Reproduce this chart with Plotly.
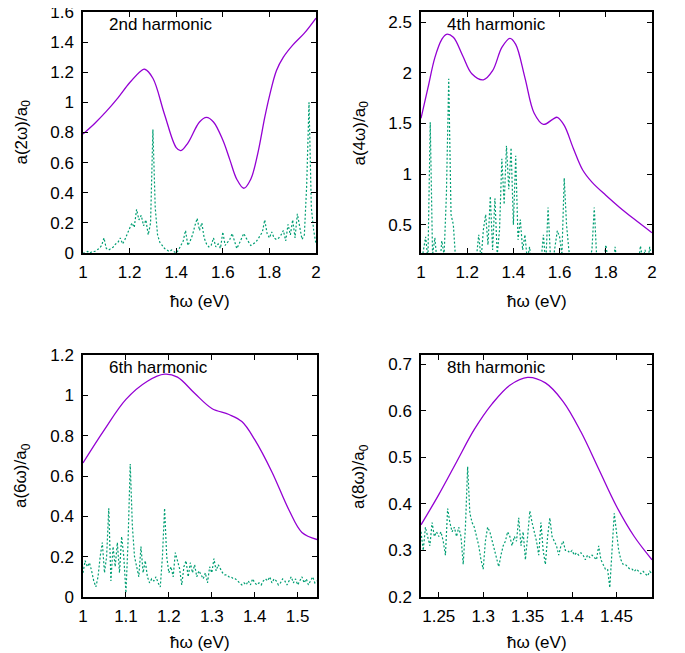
import numpy as np
import plotly.graph_objects as go

PURPLE = "#9400D3"
GREEN = "#009E73"
FONT = "Liberation Sans, Arial, sans-serif"

# ---- 2nd harmonic ----
x2_smooth = [1.00, 1.05, 1.10, 1.15, 1.20, 1.25, 1.265, 1.30, 1.35, 1.40, 1.42, 1.45,
             1.50, 1.53, 1.56, 1.60, 1.63, 1.66, 1.69, 1.72, 1.75, 1.78, 1.80, 1.83,
             1.86, 1.90, 1.95, 2.00]
y2_smooth = [0.79, 0.86, 0.94, 1.03, 1.13, 1.21, 1.22, 1.16, 0.92, 0.70, 0.68, 0.73,
             0.87, 0.90, 0.87, 0.75, 0.62, 0.49, 0.43, 0.49, 0.66, 0.90, 1.04, 1.21,
             1.30, 1.38, 1.46, 1.56]
y2_noisy = [0.00, 0.00, 0.01, 0.00, 0.01, 0.01, 0.02, 0.03, 0.05, 0.10,
            0.03, 0.02, 0.03, 0.04, 0.06, 0.07, 0.10, 0.06, 0.09, 0.13,
            0.16, 0.20, 0.17, 0.29, 0.22, 0.25, 0.18, 0.22, 0.12, 0.20,
            0.82, 0.30, 0.12, 0.07, 0.05, 0.03, 0.02, 0.01, 0.02, 0.01,
            0.00, 0.02, 0.05, 0.08, 0.15, 0.05, 0.08, 0.12, 0.18, 0.23,
            0.15, 0.20, 0.10, 0.06, 0.04, 0.05, 0.10, 0.04, 0.06, 0.03,
            0.14, 0.05, 0.07, 0.09, 0.13, 0.08, 0.03, 0.06, 0.09, 0.13,
            0.10, 0.07, 0.05, 0.06, 0.07, 0.09, 0.12, 0.14, 0.22, 0.13,
            0.10, 0.14, 0.10, 0.09, 0.10, 0.12, 0.15, 0.08, 0.19, 0.12,
            0.22, 0.10, 0.26, 0.16, 0.09, 0.12, 0.45, 1.00, 0.30, 0.15, 0.06]
x2_noisy = np.round(1.0 + 0.01 * np.arange(len(y2_noisy)), 4)

# ---- 4th harmonic ----
x4_smooth = [1.00, 1.03, 1.06, 1.09, 1.11, 1.14, 1.18, 1.22, 1.27, 1.31, 1.35, 1.385,
             1.41, 1.45, 1.49, 1.53, 1.57, 1.59, 1.62, 1.66, 1.70, 1.74, 1.80, 1.86, 1.92, 2.00]
y4_smooth = [1.55, 1.85, 2.15, 2.33, 2.38, 2.35, 2.17, 1.99, 1.93, 2.02, 2.25, 2.34,
             2.28, 1.95, 1.60, 1.49, 1.54, 1.56, 1.48, 1.25, 1.04, 0.92, 0.79, 0.67, 0.56, 0.42]
y4_noisy = [0.10, 0.25, 0.38, 0.15, 1.51, 0.20, 0.37, 0.12, 0.05, 0.34,
            0.20, 0.80, 1.94, 0.60, 0.50, 0.15, 0.08, 0.05, 0.03, 0.05,
            0.08, 0.10, 0.05, 0.12, 0.18, 0.40, 0.15, 0.45, 0.60, 0.30,
            0.78, 0.25, 0.76, 0.20, 0.45, 1.15, 0.70, 1.28, 0.85, 1.26,
            0.50, 1.18, 0.35, 0.55, 0.25, 0.40, 0.15, 0.28, 0.10, 0.05,
            0.10, 0.05, 0.15, 0.40, 0.10, 0.67, 0.20, 0.12, 0.30, 0.44,
            0.38, 0.20, 0.96, 0.50, 0.25, 0.10, 0.05, 0.03, 0.05, 0.08,
            0.05, 0.10, 0.05, 0.15, 0.25, 0.67, 0.20, 0.08, 0.05, 0.10,
            0.30, 0.15, 0.08, 0.05, 0.28, 0.10, 0.05, 0.03, 0.05, 0.03,
            0.05, 0.08, 0.15, 0.22, 0.10, 0.29, 0.15, 0.25, 0.10, 0.28, 0.12]
x4_noisy = np.round(1.0 + 0.01 * np.arange(len(y4_noisy)), 4)

# ---- 6th harmonic ----
x6_smooth = [1.00, 1.05, 1.10, 1.15, 1.19, 1.22, 1.26, 1.30, 1.34, 1.37, 1.40, 1.44, 1.48, 1.51, 1.545]
y6_smooth = [0.665, 0.83, 0.98, 1.07, 1.105, 1.09, 1.01, 0.935, 0.905, 0.87, 0.78, 0.62, 0.43, 0.32, 0.285]
y6_noisy = [0.12, 0.18, 0.15, 0.17, 0.13, 0.08, 0.05, 0.10, 0.20, 0.27,
            0.12, 0.20, 0.44, 0.08, 0.25, 0.15, 0.27, 0.12, 0.30, 0.20,
            0.02, 0.28, 0.66, 0.35, 0.20, 0.14, 0.10, 0.25, 0.12, 0.18,
            0.10, 0.07, 0.09, 0.08, 0.10, 0.07, 0.05, 0.20, 0.44, 0.20,
            0.12, 0.15, 0.10, 0.22, 0.18, 0.14, 0.06, 0.15, 0.18, 0.10,
            0.17, 0.12, 0.16, 0.10, 0.13, 0.11, 0.09, 0.12, 0.07, 0.15,
            0.12, 0.19, 0.13, 0.16, 0.14, 0.12, 0.11, 0.11, 0.10, 0.10,
            0.09, 0.09, 0.08, 0.07, 0.06, 0.07, 0.06, 0.08, 0.06, 0.09,
            0.07, 0.06, 0.07, 0.06, 0.08, 0.09, 0.08, 0.10, 0.07, 0.09,
            0.08, 0.06, 0.07, 0.09, 0.08, 0.06, 0.08, 0.10, 0.07, 0.09,
            0.06, 0.08, 0.10, 0.07, 0.09, 0.06, 0.08, 0.10, 0.07, 0.08]
x6_noisy = np.round(1.0 + 0.005 * np.arange(len(y6_noisy)), 4)

# ---- 8th harmonic ----
x8_smooth = [1.23, 1.25, 1.27, 1.29, 1.31, 1.33, 1.35, 1.37, 1.39, 1.41, 1.43, 1.45, 1.47, 1.49]
y8_smooth = [0.355, 0.42, 0.49, 0.56, 0.615, 0.655, 0.672, 0.66, 0.62, 0.555, 0.475, 0.395, 0.33, 0.28]
y8_noisy = [0.34, 0.30, 0.35, 0.33, 0.31, 0.36, 0.33, 0.34, 0.33, 0.34,
            0.32, 0.29, 0.39, 0.36, 0.34, 0.35, 0.33, 0.35, 0.33, 0.27,
            0.35, 0.48, 0.38, 0.36, 0.35, 0.33, 0.31, 0.28, 0.26, 0.32,
            0.35, 0.34, 0.32, 0.30, 0.28, 0.265, 0.29, 0.31, 0.32, 0.34,
            0.33, 0.31, 0.33, 0.32, 0.37, 0.31, 0.34, 0.28, 0.33, 0.385,
            0.36, 0.34, 0.32, 0.29, 0.36, 0.30, 0.27, 0.33, 0.37, 0.33,
            0.32, 0.31, 0.29, 0.31, 0.32, 0.30, 0.30, 0.295, 0.30, 0.29,
            0.295, 0.29, 0.295, 0.29, 0.28, 0.29, 0.285, 0.29, 0.285, 0.28,
            0.31, 0.28, 0.27, 0.26, 0.26, 0.22, 0.30, 0.38, 0.34, 0.30,
            0.28, 0.27, 0.27, 0.265, 0.26, 0.26, 0.255, 0.26, 0.255, 0.25,
            0.255, 0.25, 0.245, 0.255, 0.25]
x8_noisy = np.round(1.23 + 0.0025 * np.arange(len(y8_noisy)), 5)

# tick values / labels
xt_a = [1, 1.2, 1.4, 1.6, 1.8, 2]
xl_a = ["1", "1.2", "1.4", "1.6", "1.8", "2"]
yt_2 = [0, 0.2, 0.4, 0.6, 0.8, 1.0, 1.2, 1.4, 1.6]
yl_2 = ["0", "0.2", "0.4", "0.6", "0.8", "1", "1.2", "1.4", "1.6"]
yt_4 = [0.5, 1, 1.5, 2, 2.5]
yl_4 = ["0.5", "1", "1.5", "2", "2.5"]
xt_6 = [1, 1.1, 1.2, 1.3, 1.4, 1.5]
xl_6 = ["1", "1.1", "1.2", "1.3", "1.4", "1.5"]
yt_6 = [0, 0.2, 0.4, 0.6, 0.8, 1.0, 1.2]
yl_6 = ["0", "0.2", "0.4", "0.6", "0.8", "1", "1.2"]
xt_8 = [1.25, 1.3, 1.35, 1.4, 1.45]
xl_8 = ["1.25", "1.3", "1.35", "1.4", "1.45"]
yt_8 = [0.2, 0.3, 0.4, 0.5, 0.6, 0.7]
yl_8 = ["0.2", "0.3", "0.4", "0.5", "0.6", "0.7"]

# the page body has an 8px margin, so the figure is drawn 8px in from the corner
OFF = 8
W, H = 685 - OFF, 653 - OFF


def px(x):
    return (x - OFF) / W


def py(y):
    return 1 - (y - OFF) / H


panels = [
    # (suffix, smooth x, smooth y, noisy x, noisy y, xrange, yrange, xticks, yticks, label, ytitle, box, xtitle gap)
    ("", x2_smooth, y2_smooth, x2_noisy, y2_noisy, [1, 2], [0, 1.6], (xt_a, xl_a), (yt_2, yl_2),
     "2nd harmonic", "a(2ω)/a<sub>0</sub>", (83, 316, 12, 253), 48),
    ("2", x4_smooth, y4_smooth, x4_noisy, y4_noisy, [1, 2], [0.22, 2.6], (xt_a, xl_a), (yt_4, yl_4),
     "4th harmonic", "a(4ω)/a<sub>0</sub>", (421, 652, 12, 253), 48),
    ("3", x6_smooth, y6_smooth, x6_noisy, y6_noisy, [1, 1.545], [0, 1.2], (xt_6, xl_6), (yt_6, yl_6),
     "6th harmonic", "a(6ω)/a<sub>0</sub>", (83, 317, 355, 597), 45),
    ("4", x8_smooth, y8_smooth, x8_noisy, y8_noisy, [1.23, 1.49], [0.2, 0.72], (xt_8, xl_8), (yt_8, yl_8),
     "8th harmonic", "a(8ω)/a<sub>0</sub>", (421, 652, 355, 597), 45),
]

fig = go.Figure()
annotations = []
axis_common = dict(showline=True, linecolor="black", linewidth=1.5, mirror="allticks",
                   ticks="inside", ticklen=5, tickcolor="black", tickwidth=1,
                   showgrid=False, zeroline=False, automargin=False, ticklabeloverflow="allow",
                   tickfont=dict(family=FONT, size=17, color="black"))

for suf, xs, ys, xn, yn, xr, yr, xt, yt, label, ytitle, box, gap in panels:
    xa = "x" + suf
    ya = "y" + suf
    fig.add_trace(go.Scatter(x=xs, y=ys, mode="lines", line=dict(color=PURPLE, width=1.3, shape="spline"),
                             xaxis=xa, yaxis=ya, showlegend=False))
    fig.add_trace(go.Scatter(x=xn, y=yn, mode="lines", line=dict(color=GREEN, width=1.2, dash="2px,2px"),
                             xaxis=xa, yaxis=ya, showlegend=False))
    l, r, t, b = box
    fig.layout["xaxis" + suf] = dict(axis_common, domain=[px(l), px(r)], range=xr, anchor=ya,
                                     tickvals=xt[0], ticktext=xt[1], ticklabelstandoff=3)
    fig.layout["yaxis" + suf] = dict(axis_common, domain=[py(b), py(t)], range=yr, anchor=xa,
                                     tickvals=yt[0], ticktext=yt[1], ticklabelstandoff=4)
    annotations.append(dict(text=label, x=px(l + 24), y=py(t + 12), xref="paper", yref="paper",
                            xanchor="left", yanchor="middle", showarrow=False,
                            font=dict(family=FONT, size=17, color="black")))
    annotations.append(dict(text=ytitle, x=px(l - 61), y=py((t + b) / 2), xref="paper", yref="paper",
                            xanchor="center", yanchor="middle", textangle=-90, showarrow=False,
                            font=dict(family=FONT, size=17, color="black")))
    annotations.append(dict(text="ħω (eV)", x=px((l + r) / 2), y=py(b + gap), xref="paper", yref="paper",
                            xanchor="center", yanchor="middle", showarrow=False,
                            font=dict(family=FONT, size=17, color="black")))

fig.update_layout(width=W, height=H, margin=dict(l=0, r=0, t=0, b=0, autoexpand=False),
                  paper_bgcolor="white", plot_bgcolor="white", annotations=annotations)

fig.write_html("out.html")
